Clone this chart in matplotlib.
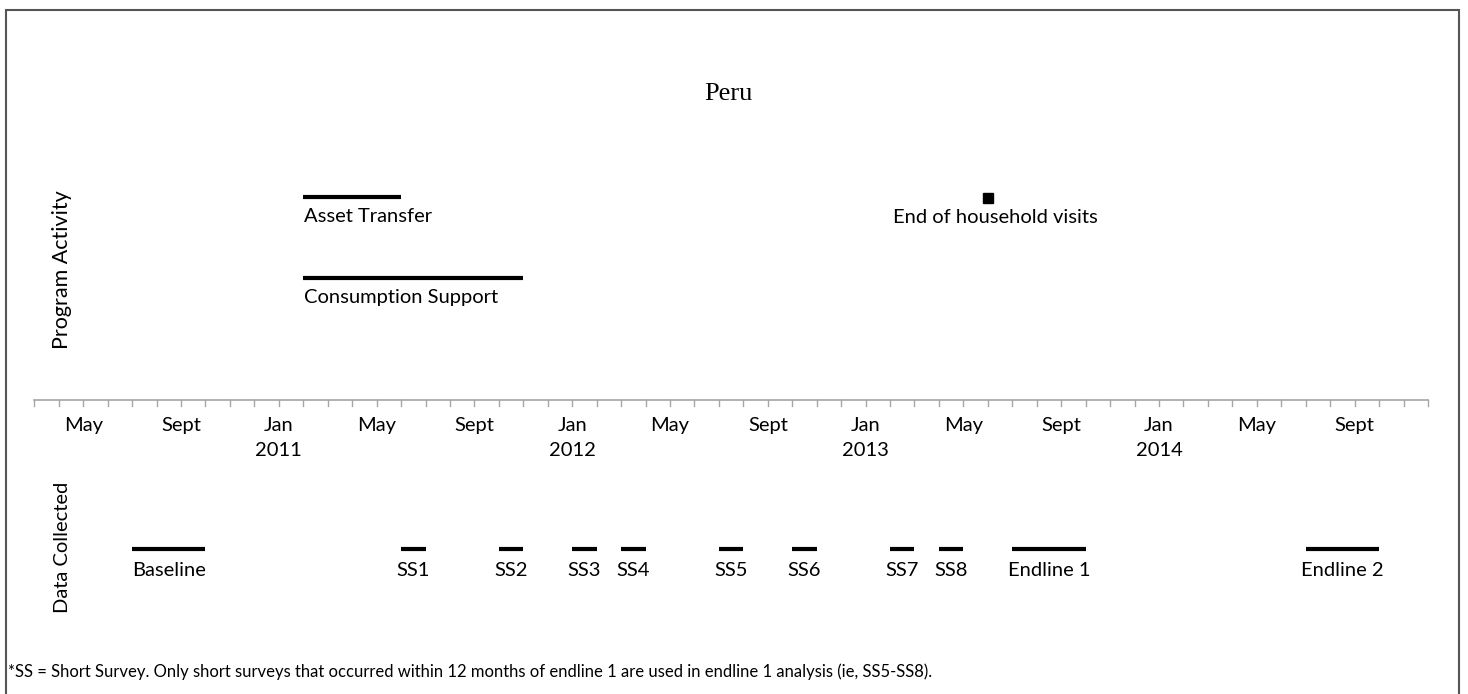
import matplotlib
matplotlib.use("Agg")
import matplotlib.pyplot as plt
from matplotlib.patches import Rectangle

# months counted from March 2010 (index 0) to December 2014 (index 57)
n_months = 57
tick_labels = {2: "May", 6: "Sept", 10: "Jan\n2011", 14: "May", 18: "Sept",
               22: "Jan\n2012", 26: "May", 30: "Sept", 34: "Jan\n2013",
               38: "May", 42: "Sept", 46: "Jan\n2014", 50: "May", 54: "Sept"}

# program activity (start month, end month)
prog_names = ["Asset Transfer", "Consumption Support"]
prog_start = [11, 11]
prog_end = [15, 20]
end_visits_month = 39
end_visits_label = "End of household visits"

# data collection rounds
data_names = ["Baseline", "SS1", "SS2", "SS3", "SS4", "SS5", "SS6",
              "SS7", "SS8", "Endline 1", "Endline 2"]
data_start = [4, 15, 19, 22, 24, 28, 31, 35, 37, 40, 52]
data_end = [7, 16, 20, 23, 25, 29, 32, 36, 38, 43, 55]

font = ["Lato", "DejaVu Sans"]
fs = 14.5
W, H = 1468, 694
x0, dx = 34.3, 24.45

fig = plt.figure(figsize=(W / 100, H / 100), dpi=100)
ax = fig.add_axes([0, 0, 1, 1])
ax.set_xlim(-x0 / dx, (W - x0) / dx)
ax.set_ylim(H, 0)
ax.axis("off")

# outer frame
fig.patches.append(Rectangle((6 / W, -0.05), 1453 / W, 1.05 - 10 / H,
                             transform=fig.transFigure, fill=False,
                             edgecolor="#555555", lw=1.5))

ax.text((728 - x0) / dx, 94, "Peru", ha="center", va="center",
        fontsize=19, family="Liberation Serif")

# time axis
axis_y = 399.5
ax.plot([0, n_months], [axis_y, axis_y], color="#a6a6a6", lw=1.2)
for m in range(n_months + 1):
    ax.plot([m, m], [axis_y, axis_y + 6], color="#a6a6a6", lw=1)
for m, lab in tick_labels.items():
    ax.text(m, 417, lab, ha="center", va="top", fontsize=fs,
            family=font, linespacing=1.6)

# program activity
prog_y = [196.7, 277.7]
for name, s, e, y in zip(prog_names, prog_start, prog_end, prog_y):
    ax.plot([s, e], [y, y], color="black", lw=3, solid_capstyle="butt")
    ax.text(s + 0.05, y + 20, name, ha="left", va="center", fontsize=fs,
            family=font)
ax.plot([end_visits_month], [197.5], marker="s", color="black", ms=7)
ax.text(end_visits_month + 0.3, 217, end_visits_label, ha="center",
        va="center", fontsize=fs, family=font)

# data collected
data_y = 549.3
for name, s, e in zip(data_names, data_start, data_end):
    ax.plot([s, e], [data_y, data_y], color="black", lw=3,
            solid_capstyle="butt")
    ax.text((s + e) / 2, 570, name, ha="center", va="center", fontsize=fs,
            family=font)

ax.text((62 - x0) / dx, 270, "Program Activity", rotation=90, ha="center",
        va="center", fontsize=15.5, family=font)
ax.text((62 - x0) / dx, 547, "Data Collected", rotation=90, ha="center",
        va="center", fontsize=14.5, family=font)

ax.text((8 - x0) / dx, 672,
        "*SS = Short Survey. Only short surveys that occurred within 12 months "
        "of endline 1 are used in endline 1 analysis (ie, SS5-SS8).",
        ha="left", va="center", fontsize=12, family=font)

fig.savefig("out.png", dpi=100)
